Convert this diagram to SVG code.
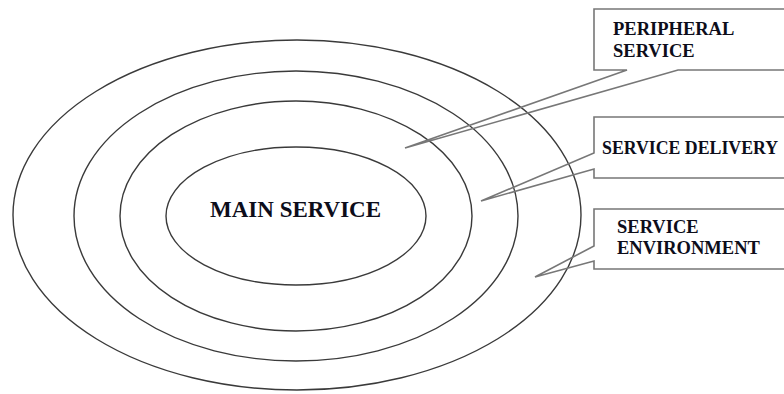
<svg xmlns="http://www.w3.org/2000/svg" width="784" height="394" viewBox="0 0 784 394">
<style>
.ring{fill:none;stroke:#3a3a3a;stroke-width:1.4}
.box{fill:none;stroke:#777;stroke-width:1.6;stroke-linejoin:miter}
.lbl{font-family:"Liberation Serif","Times New Roman",serif;font-weight:bold;font-size:18.5px;fill:#0d0d1a}
</style>
<rect width="784" height="394" fill="#fff"/>
<g id="rings">
<g id="ring-environment"><ellipse class="ring" cx="297" cy="215" rx="284" ry="175"/></g>
<g id="ring-delivery"><ellipse class="ring" cx="296" cy="216" rx="222" ry="145"/></g>
<g id="ring-peripheral"><ellipse class="ring" cx="296" cy="216" rx="176" ry="115"/></g>
<g id="main-service"><ellipse class="ring" cx="296" cy="216" rx="130" ry="69"/>
<text class="lbl" x="210" y="217" style="font-size:23px">MAIN SERVICE</text></g>
</g>
<g id="connectors">
<g id="callout-peripheral"><path class="box" d="M800 9 H594 V70 H627 L405 148 L678 70 H800"/>
<text class="lbl" x="613" y="35">PERIPHERAL</text><text class="lbl" x="613" y="57">SERVICE</text></g>
<g id="callout-delivery"><path class="box" d="M800 117 H594 V153 L481 201 L594 169 V178 H800"/>
<text class="lbl" x="602" y="154" style="font-size:17.8px">SERVICE DELIVERY</text></g>
<g id="callout-environment"><path class="box" d="M800 209 H594 V246 L535 277 L594 261 V269 H800"/>
<text class="lbl" x="617" y="233">SERVICE</text><text class="lbl" x="617" y="254">ENVIRONMENT</text></g>
</g>
</svg>
